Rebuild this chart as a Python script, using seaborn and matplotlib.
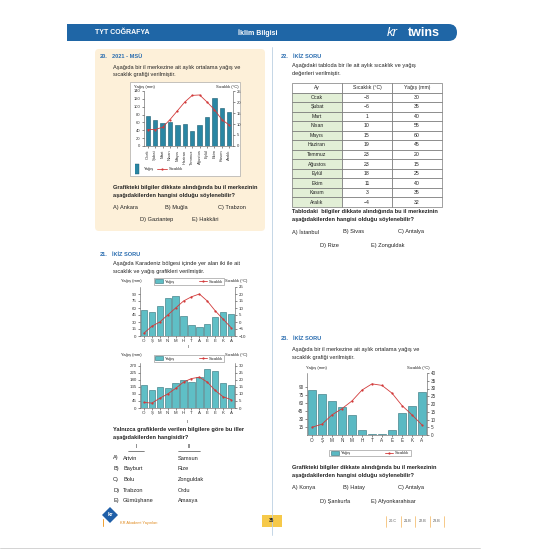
import matplotlib
matplotlib.use('Agg')
import matplotlib.pyplot as plt
import seaborn as sns
import numpy as np
from matplotlib.patches import Rectangle, FancyBboxPatch, Patch, Polygon
from matplotlib.lines import Line2D

sns.set_style('ticks')
plt.rcParams['font.family'] = ['Liberation Sans', 'DejaVu Sans']

# data
months_full = ['Ocak', 'Şubat', 'Mart', 'Nisan', 'Mayıs', 'Haziran', 'Temmuz',
               'Ağustos', 'Eylül', 'Ekim', 'Kasım', 'Aralık']
months_short = ['O', 'Ş', 'M', 'N', 'M', 'H', 'T', 'A', 'E', 'E', 'K', 'A']

q20_rain = [77, 66, 59, 61, 54, 55, 38, 53, 75, 121, 97, 87]
q20_temp = [7.5, 7.5, 8.5, 12, 16, 20, 23, 23.2, 20, 16.5, 12, 9.5]

q21a_rain = [55, 51, 64, 81, 85, 42, 23, 19, 26, 41, 52, 48]
q21a_temp = [-8, -3, 0, 5, 10, 15, 18, 20, 15, 8, 2, -4]

q21b_rain = [146, 114, 133, 128, 159, 178, 167, 201, 253, 240, 159, 146]
q21b_temp = [4, 3.5, 7, 10, 14, 18.5, 21, 22, 18.5, 12.5, 8, 6]

q22_temp = ['−8', '−6', '1', '10', '15', '19', '23', '23', '18', '11', '3', '−4']
q22_rain = ['30', '35', '40', '55', '60', '45', '20', '15', '25', '40', '35', '32']

q23_rain = [85, 77, 64, 52, 38, 10, 2, 2, 9, 41, 55, 80]
q23_temp = [5, 7, 13, 17, 22, 29, 33, 32, 27, 19, 13, 6.5]

q21_pairs = [('A)', 'Artvin', 'Samsun'), ('B)', 'Bayburt', 'Rize'), ('C)', 'Bolu', 'Zonguldak'),
             ('D)', 'Trabzon', 'Ordu'), ('E)', 'Gümüşhane', 'Amasya')]

red = '#d23a3a'
blue = '#2a6db0'
ink = '#222222'
body = 4.1

W = H = 550
fig = plt.figure(figsize=(5.5, 5.5), dpi=100)
page = fig.add_axes([0, 0, 1, 1])
page.set_xlim(0, W)
page.set_ylim(H, 0)
page.axis('off')


def rect(x0, y0, x1, y1):
    return [x0 / W, 1 - y1 / H, (x1 - x0) / W, (y1 - y0) / H]


def txt(x, y, s, size=body, **kw):
    kw.setdefault('va', 'center')
    kw.setdefault('color', ink)
    page.text(x, y, s, fontsize=size, **kw)


def climate_chart(pos, rain, temp, labels, rain_lim, rain_ticks, temp_lim, temp_ticks,
                  bar_color, bar_edge, rot=0, width=0.8, tick_size=3.2):
    ax = fig.add_axes(rect(*pos))
    ax.patch.set_alpha(0)
    sns.barplot(x=list(range(12)), y=rain, ax=ax, color=bar_color, edgecolor=bar_edge,
                linewidth=0.4, width=width, saturation=1)
    ax2 = ax.twinx()
    sns.lineplot(x=list(range(12)), y=temp, ax=ax2, color=red, linewidth=0.6,
                 marker='o', markersize=1.6, markeredgewidth=0)
    ax.set_xlim(-0.5, 11.5)
    ax2.set_xlim(-0.5, 11.5)
    ax.set_ylim(*rain_lim)
    ax.set_yticks(rain_ticks)
    ax2.set_ylim(*temp_lim)
    ax2.set_yticks(temp_ticks)
    ax.set_xticks(range(12))
    ax.set_xticklabels(labels, rotation=rot)
    ax.set_xlabel('')
    ax.set_ylabel('')
    ax2.set_ylabel('')
    for a in (ax, ax2):
        a.tick_params(labelsize=tick_size, length=1.5, width=0.4, pad=1, colors='#333')
        for s in a.spines.values():
            s.set_linewidth(0.4)
            s.set_color('#555')
        a.spines['top'].set_visible(False)
    ax.spines['right'].set_visible(False)
    ax2.spines['left'].set_visible(False)
    ax2.spines['bottom'].set_visible(False)
    return ax, ax2


def chart_legend(cx, cy, bar_color, bar_edge, spacing):
    handles = [Patch(facecolor=bar_color, edgecolor=bar_edge, linewidth=0.4),
               Line2D([], [], color=red, lw=0.6, marker='o', ms=1.6, mew=0)]
    leg = fig.legend(handles, ['Yağış', 'Sıcaklık'], loc='center',
                     bbox_to_anchor=(cx / W, 1 - cy / H), ncol=2, fontsize=3.0,
                     frameon=True, fancybox=False, edgecolor='#888', framealpha=1,
                     handlelength=2.0, handleheight=1.1, handletextpad=0.5,
                     columnspacing=spacing, borderpad=0.3)
    leg.get_frame().set_linewidth(0.4)


# header
page.add_patch(FancyBboxPatch((67, 24), 390, 17, boxstyle='round,pad=0,rounding_size=8.5',
                              fc='#1f66a6', ec='none'))
page.add_patch(Rectangle((67, 24), 20, 17, fc='#1f66a6', ec='none'))
txt(95, 33, 'TYT COĞRAFYA', size=5, color='white', fontweight='bold',
    family=['Liberation Sans Narrow', 'Liberation Sans', 'DejaVu Sans'])
txt(258, 33, 'İklim Bilgisi', size=5, color='white', fontweight='bold', ha='center',
    family=['Liberation Sans Narrow', 'Liberation Sans', 'DejaVu Sans'])
txt(387, 32.5, 'kr', size=9.5, color='white', fontstyle='italic')
txt(408, 32.5, 'twins', size=9, color='white', fontweight='bold')

# separator and page edge
page.plot([272, 272], [47, 535], color='#bcd0e2', lw=0.6)
page.plot([0, 480], [548, 548], color='#cccccc', lw=0.6)

# ---------------- question 20 ----------------
page.add_patch(FancyBboxPatch((95, 49), 170, 182, boxstyle='round,pad=0,rounding_size=4',
                              fc='#fdf0d9', ec='none'))
txt(100, 57, '20.', color=blue, fontweight='bold')
txt(112, 57, '2021 - MSÜ', color=blue, fontweight='bold')
txt(113, 67, 'Aşağıda bir il merkezine ait aylık ortalama yağış ve')
txt(113, 74.5, 'sıcaklık grafiği verilmiştir.')
page.add_patch(Rectangle((130, 82), 110, 94, fc='white', ec='#999999', lw=0.4))
txt(134, 87, 'Yağış (mm)', size=3.0)
txt(239, 87, 'Sıcaklık (°C)', size=3.0, ha='right')
climate_chart((144, 91, 233, 146), q20_rain, q20_temp, months_full, (0, 140), range(0, 141, 20),
              (0, 25), range(0, 26, 5), '#2a86a3', '#1b5a6e', rot=90, width=0.58, tick_size=3.0)
bar_icon = [(-0.35, -1), (0.35, -1), (0.35, 1), (-0.35, 1)]
fig.legend([Line2D([], [], ls='none', marker=bar_icon, ms=7, mfc='#2a86a3', mec='#1b5a6e', mew=0.3),
            Line2D([], [], color=red, lw=0.6, marker='o', ms=1.6, mew=0)],
           ['Yağış', 'Sıcaklık'], loc='center left', bbox_to_anchor=(132 / W, 1 - 169 / H),
           ncol=2, fontsize=3.0, frameon=False, handlelength=2.4, handletextpad=0.4,
           columnspacing=0.8, borderpad=0, borderaxespad=0)
txt(113, 187, 'Grafikteki bilgiler dikkate alındığında bu il merkezinin', fontweight='bold')
txt(113, 195, 'aşağıdakilerden hangisi olduğu söylenebilir?', fontweight='bold')
txt(113, 207, 'A) Ankara')
txt(165, 207, 'B) Muğla')
txt(218, 207, 'C) Trabzon')
txt(140, 220, 'D) Gaziantep')
txt(192, 220, 'E) Hakkâri')

# ---------------- question 21 ----------------
txt(100, 254, '21.', color=blue, fontweight='bold')
txt(112, 254, 'İKİZ SORU', color=blue, fontweight='bold')
txt(113, 263.5, 'Aşağıda Karadeniz bölgesi içinde yer alan iki ile ait')
txt(113, 271, 'sıcaklık ve yağış grafikleri verilmiştir.')

txt(121, 281, 'Yağış (mm)', size=2.9)
txt(225, 281, 'Sıcaklık (°C)', size=2.9)
climate_chart((140, 287, 235, 336), q21a_rain, q21a_temp, months_short, (0, 105), range(0, 91, 15),
              (-10, 25), range(-10, 26, 5), '#5fbfc6', '#2f6f77')
chart_legend(189, 281.5, '#5fbfc6', '#2f6f77', 5.5)
txt(188, 347, 'I', size=3.2, ha='center')

txt(121, 355, 'Yağış (mm)', size=2.9)
txt(225, 355, 'Sıcaklık (°C)', size=2.9)
climate_chart((140, 363, 235, 408), q21b_rain, q21b_temp, months_short, (0, 289), range(0, 271, 45),
              (0, 32.1), range(0, 31, 5), '#5fbfc6', '#2f6f77')
chart_legend(189, 358.5, '#5fbfc6', '#2f6f77', 5.5)
txt(188, 422, 'II', size=3.2, ha='center')

txt(113, 430, 'Yalnızca grafiklerde verilen bilgilere göre bu iller', fontweight='bold')
txt(113, 437.5, 'aşağıdakilerden hangisidir?', fontweight='bold')
txt(136, 447, 'I', size=3.8, ha='center')
page.plot([128, 144], [451, 451], color=ink, lw=0.4)
txt(189, 447, 'II', size=3.8, ha='center')
page.plot([178, 200], [451, 451], color=ink, lw=0.4)
for i, (letter, first, second) in enumerate(q21_pairs):
    yy = 458 + i * 10.7
    txt(113, yy, letter)
    txt(123, yy, first)
    txt(178, yy, second)

# footer
page.add_patch(Polygon([(110, 507), (118, 515), (110, 523), (102, 515)], closed=True,
                       fc='#1f5fa8', ec='none'))
txt(110, 515, 'kr', size=4.2, color='white', fontweight='bold', ha='center')
page.plot([103, 103], [519, 526], color='#f0a030', lw=0.7)
txt(120, 523, 'KR Akademi Yayınları', size=2.8, color='#e08a1e')
page.add_patch(Rectangle((262, 515), 20, 12, fc='#f6c94a', ec='none'))
txt(272, 521, '35', size=3.4, ha='center', fontweight='bold')
answers = ['20.C', '21.B', '22.B', '23.B']
for i, a in enumerate(answers):
    x0 = 386 + i * 14.5
    page.plot([x0, x0], [516, 527], color='#f0a030', lw=0.4)
    txt(x0 + 7.2, 521.5, a, size=2.7, ha='center', color='#555555')
page.plot([444, 444], [516, 527], color='#f0a030', lw=0.4)

# ---------------- question 22 ----------------
txt(281, 57, '22.', color=blue, fontweight='bold')
txt(293, 57, 'İKİZ SORU', color=blue, fontweight='bold')
txt(292, 66, 'Aşağıdaki tabloda bir ile ait aylık sıcaklık ve yağış')
txt(292, 73.5, 'değerleri verilmiştir.')
col_x = [292, 342, 392, 442]
row_h = (207 - 83) / 13
header = ['Ay', 'Sıcaklık (°C)', 'Yağış (mm)']
for r in range(13):
    y0 = 83 + r * row_h
    for c in range(3):
        fc = '#e2efd6' if (c == 0 and r > 0) else 'white'
        page.add_patch(Rectangle((col_x[c], y0), col_x[c + 1] - col_x[c], row_h,
                                 fc=fc, ec='#6b6b6b', lw=0.45))
        if r == 0:
            s = header[c]
        else:
            s = [months_full, q22_temp, q22_rain][c][r - 1]
        txt((col_x[c] + col_x[c + 1]) / 2, y0 + row_h / 2, s, size=3.7, ha='center')
txt(292, 212, 'Tablodaki  bilgiler dikkate alındığında bu il merkezinin', fontweight='bold')
txt(292, 219.5, 'aşağıdakilerden hangisi olduğu söylenebilir?', fontweight='bold')
txt(292, 232, 'A) İstanbul')
txt(343, 232, 'B) Sivas')
txt(398, 232, 'C) Antalya')
txt(320, 245, 'D) Rize')
txt(371, 245, 'E) Zonguldak')

# ---------------- question 23 ----------------
txt(281, 339, '23.', color=blue, fontweight='bold')
txt(293, 339, 'İKİZ SORU', color=blue, fontweight='bold')
txt(292, 349, 'Aşağıda bir il merkezine ait aylık ortalama yağış ve')
txt(292, 357, 'sıcaklık grafiği verilmiştir.')
txt(306, 368, 'Yağış (mm)', size=3.0)
txt(430, 368, 'Sıcaklık (°C)', size=3.0, ha='right')
climate_chart((307, 373, 427, 435), q23_rain, q23_temp, months_short, (0, 116), range(15, 91, 15),
              (0, 40), range(0, 41, 5), '#5ab9c3', '#2f6f77', width=0.82, tick_size=3.3)
chart_legend(370, 453, '#5ab9c3', '#2f6f77', 8)
txt(292, 467, 'Grafikteki bilgiler dikkate alındığında bu il merkezinin', fontweight='bold')
txt(292, 475, 'aşağıdakilerden hangisi olduğu söylenebilir?', fontweight='bold')
txt(292, 487, 'A) Konya')
txt(343, 487, 'B) Hatay')
txt(398, 487, 'C) Antalya')
txt(320, 501, 'D) Şanlıurfa')
txt(371, 501, 'E) Afyonkarahisar')

fig.savefig('out.png', dpi=100)
